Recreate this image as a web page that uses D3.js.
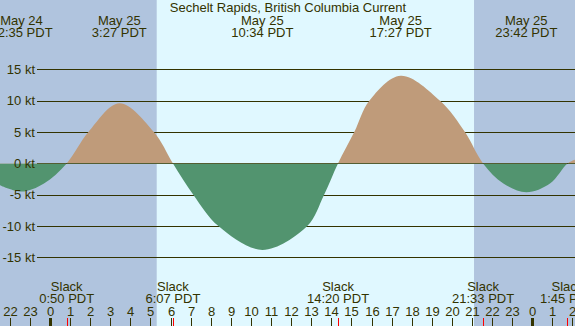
<!DOCTYPE html>
<html>
<head>
<meta charset="utf-8">
<script src="https://cdn.jsdelivr.net/npm/d3@7"></script>
<style>
  body { margin: 0; }
  svg { display: block; }
  text { font-family: "Liberation Sans", Arial, sans-serif; font-size: 13px; fill: #333300; }
</style>
</head>
<body>
<div id="chart"></div>
<script>
// hours counted from May 25 0:00 PDT
var hours = [-2.49, -1.42, -0.30, 0.83, 1.91, 3.45, 5.17, 6.12, 7.13, 8.38, 10.57, 12.80, 13.64,
             14.33, 15.14, 15.89, 17.45, 19.41, 20.65, 21.55, 22.56, 23.70, 24.88, 25.75, 26.12];
var knots = [-3.5, -4.5, -3.2, 0, 5, 9.6, 5, 0, -5, -10, -13.8, -10, -5,
             0, 5, 10, 14.0, 10, 5, 0, -3.2, -4.6, -3.2, 0, 0.6];

var maxTimes = [-1.417, 3.45, 10.567, 17.45, 23.7];
var maxDays = ["May 24", "May 25", "May 25", "May 25", "May 25"];
var maxClock = ["22:35 PDT", "3:27 PDT", "10:34 PDT", "17:27 PDT", "23:42 PDT"];

var slackTimes = [0.833, 6.117, 14.333, 21.55, 25.75];
var slackClock = ["0:50 PDT", "6:07 PDT", "14:20 PDT", "21:33 PDT", "1:45 PDT"];

var sunrise = [5.31], sunset = [21.1];
var hourTicks = d3.range(-2, 27);
var ktTicks = [-15, -10, -5, 0, 5, 10, 15];
var title = "Sechelt Rapids, British Columbia Current";

var width = 575, height = 326;
var nightColor = "#b0c4de", dayColor = "#e0f8ff";
var floodColor = "#bf9b7a", ebbColor = "#52946f", ink = "#333300";

var x = d3.scaleLinear().domain([0, 24]).range([50, 532.3]);
var y = d3.scaleLinear().domain([-15, 15]).range([257.4, 69.4]);
var xr = x.copy().interpolate(d3.interpolateRound);
var yr = y.copy().interpolate(d3.interpolateRound);

var svg = d3.select("#chart").append("svg")
    .attr("width", width)
    .attr("height", height);

// night / day background
svg.append("rect").attr("width", width).attr("height", height).attr("fill", nightColor);
svg.append("rect")
    .attr("x", x(sunrise[0])).attr("width", x(sunset[0]) - x(sunrise[0]))
    .attr("height", height).attr("fill", dayColor);

// grid lines (under the fills)
svg.append("g")
    .attr("transform", "translate(37,0)")
    .call(d3.axisLeft(yr).tickValues(ktTicks).tickSize(-(width - 37)).tickFormat(""))
    .call(function (g) { g.select(".domain").remove(); })
    .selectAll("line").attr("stroke", ink);

// current fills
var zeroY = y(0);
svg.append("clipPath").attr("id", "above")
    .append("rect").attr("width", width).attr("height", zeroY);
svg.append("clipPath").attr("id", "below")
    .append("rect").attr("y", zeroY).attr("width", width).attr("height", height - zeroY);

var area = d3.area()
    .x(function (d, i) { return x(hours[i]); })
    .y0(zeroY)
    .y1(function (d) { return y(d); })
    .curve(d3.curveCatmullRom.alpha(0.5));

svg.append("path").datum(knots).attr("d", area)
    .attr("fill", floodColor).attr("clip-path", "url(#above)");
svg.append("path").datum(knots).attr("d", area)
    .attr("fill", ebbColor).attr("clip-path", "url(#below)");

// kt labels
svg.append("g")
    .attr("transform", "translate(37,0)")
    .call(d3.axisLeft(y).tickValues(ktTicks).tickSize(0).tickPadding(2)
        .tickFormat(function (d) { return d + " kt"; }))
    .call(function (g) { g.select(".domain").remove(); });

// title and max/min labels
svg.append("text").attr("x", 288).attr("y", 12).attr("text-anchor", "middle").text(title);

var tops = svg.append("g").selectAll("g").data(maxTimes).enter().append("g")
    .attr("text-anchor", "middle");
tops.append("text").attr("x", function (d) { return x(d); }).attr("y", 25)
    .text(function (d, i) { return maxDays[i]; });
tops.append("text").attr("x", function (d) { return x(d); }).attr("y", 37)
    .text(function (d, i) { return maxClock[i]; });

// slack labels
var slacks = svg.append("g").selectAll("g").data(slackTimes).enter().append("g")
    .attr("text-anchor", "middle");
slacks.append("text").attr("x", function (d) { return x(d); }).attr("y", 291).text("Slack");
slacks.append("text").attr("x", function (d) { return x(d); }).attr("y", 303)
    .text(function (d, i) { return slackClock[i]; });

// hour axis along the bottom
var hourAxis = svg.append("g")
    .attr("transform", "translate(0," + height + ")")
    .call(d3.axisTop(xr).tickValues(hourTicks).tickSize(8).tickPadding(2)
        .tickFormat(function (d) { return (d + 24) % 24; }));
hourAxis.select(".domain").remove();
hourAxis.selectAll("line")
    .attr("stroke", ink)
    .attr("stroke-width", function (d) { return d % 24 === 0 ? 3 : 1; });

// slack ticks
svg.append("g").selectAll("line").data(slackTimes).enter().append("line")
    .attr("x1", function (d) { return xr(d) + 0.5; })
    .attr("x2", function (d) { return xr(d) + 0.5; })
    .attr("y1", height - 8).attr("y2", height)
    .attr("stroke", "#ff0000");
</script>
</body>
</html>
